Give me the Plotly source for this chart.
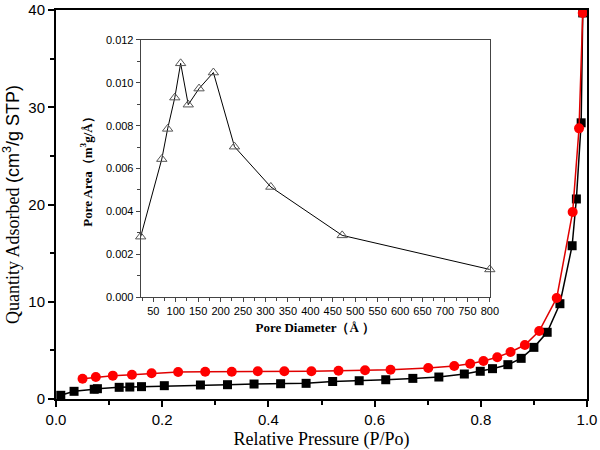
import plotly.graph_objects as go

# Isotherm data (relative pressure vs. quantity adsorbed)
ads_p = [0.009, 0.034, 0.072, 0.078, 0.119, 0.139, 0.161, 0.204, 0.272, 0.323,
         0.373, 0.423, 0.471, 0.521, 0.571, 0.621, 0.672, 0.721, 0.769, 0.799,
         0.822, 0.851, 0.876, 0.900, 0.925, 0.949, 0.972, 0.980, 0.989, 0.992]
ads_q = [0.38, 0.79, 1.00, 1.06, 1.20, 1.23, 1.27, 1.37, 1.44, 1.47,
         1.54, 1.57, 1.61, 1.80, 1.88, 1.98, 2.12, 2.26, 2.57, 2.85,
         3.12, 3.53, 4.18, 5.31, 6.86, 9.80, 15.76, 20.57, 28.4, 39.7]

des_p = [0.050, 0.075, 0.107, 0.143, 0.180, 0.230, 0.281, 0.331, 0.380, 0.430,
         0.481, 0.532, 0.582, 0.630, 0.701, 0.750, 0.780, 0.805, 0.831, 0.856,
         0.883, 0.910, 0.943, 0.973, 0.985, 0.992]
des_q = [2.09, 2.26, 2.40, 2.50, 2.64, 2.78, 2.81, 2.81, 2.85, 2.85,
         2.85, 2.91, 2.95, 3.01, 3.19, 3.39, 3.63, 3.91, 4.29, 4.83,
         5.55, 6.99, 10.39, 19.23, 27.83, 39.7]

# Inset: pore size distribution
pore_d = [22, 69, 82, 98, 111, 128, 152, 184, 231, 312, 471, 800]
pore_area = [0.00282, 0.00644, 0.00785, 0.00931, 0.01091, 0.00898,
             0.00973, 0.01048, 0.00702, 0.00514, 0.00288, 0.00129]

fig = go.Figure()

fig.add_trace(go.Scatter(
    x=ads_p, y=ads_q, mode='lines+markers',
    line=dict(color='black', width=1.5),
    marker=dict(symbol='square', size=9, color='black'),
    showlegend=False, cliponaxis=False
))
fig.add_trace(go.Scatter(
    x=des_p, y=des_q, mode='lines+markers',
    line=dict(color='#e00000', width=1.5),
    marker=dict(symbol='circle', size=10, color='#ff0000'),
    showlegend=False, cliponaxis=False
))
fig.add_trace(go.Scatter(
    x=pore_d, y=pore_area, mode='lines+markers',
    xaxis='x2', yaxis='y2',
    line=dict(color='black', width=1),
    marker=dict(symbol='triangle-up-open', size=9, color='#555555', line=dict(width=1)),
    showlegend=False, cliponaxis=False
))

sans = 'Arial, Liberation Sans, sans-serif'
serif = 'Times New Roman, Liberation Serif, serif'

fig.update_layout(
    width=600, height=450,
    margin=dict(l=56, r=13, t=10, b=51),
    paper_bgcolor='white', plot_bgcolor='white',
    font=dict(family=sans, color='black'),
    xaxis=dict(
        range=[0, 1], dtick=0.2, tickformat='.1f', automargin=False,
        showline=True, linecolor='black', linewidth=2, mirror=True,
        ticks='outside', ticklen=6, tickwidth=1.5, tickcolor='black',
        minor=dict(ticks='outside', dtick=0.1, ticklen=4, tickcolor='black'),
        showgrid=False, zeroline=False,
        tickfont=dict(size=15, family=sans),
        title=dict(text='Relative Pressure (P/Po)', font=dict(size=18, family=serif), standoff=8),
    ),
    yaxis=dict(
        range=[0, 40], dtick=10, automargin=False,
        showline=True, linecolor='black', linewidth=2, mirror=True,
        ticks='outside', ticklen=6, tickwidth=1.5, tickcolor='black',
        minor=dict(ticks='outside', dtick=5, ticklen=4, tickcolor='black'),
        showgrid=False, zeroline=False,
        tickfont=dict(size=15, family=sans),
        title=dict(
            text='Quantity Adsorbed <span style="font-family:Arial, Liberation Sans, sans-serif">(cm<sup>3</sup>/g STP)</span>',
            font=dict(size=18, family=serif), standoff=4),
    ),
    xaxis2=dict(
        domain=[0.1595, 0.817], anchor='y2', automargin=False,
        range=[22, 800], tickvals=list(range(50, 801, 50)),
        showline=True, linecolor='#444444', linewidth=1, mirror=True,
        ticks='outside', ticklen=4, tickcolor='#444444',
        minor=dict(ticks='outside', tickvals=list(range(25, 801, 50)), ticklen=3, tickcolor='#444444'),
        showgrid=False, zeroline=False,
        tickfont=dict(size=11, family=sans),
        title=dict(text='<b>Pore Diameter（Å ）</b>', font=dict(size=13, family=serif), standoff=6),
    ),
    yaxis2=dict(
        domain=[0.262, 0.923], anchor='x2', automargin=False,
        range=[0, 0.012], dtick=0.002, tickformat='.3f',
        showline=True, linecolor='#444444', linewidth=1, mirror=True,
        ticks='outside', ticklen=4, tickcolor='#444444',
        minor=dict(ticks='outside', dtick=0.001, ticklen=3, tickcolor='#444444'),
        showgrid=False, zeroline=False,
        tickfont=dict(size=11, family=sans),
        title=dict(text='<b>Pore Area（m<sup>3</sup>g/Å）</b>', font=dict(size=13, family=serif), standoff=10),
    ),
)

# drop the default 8px page margin so the figure sits at the window corner
fig.write_html('out.html', config={'displayModeBar': False},
               post_script="document.body.style.margin = '0';")
